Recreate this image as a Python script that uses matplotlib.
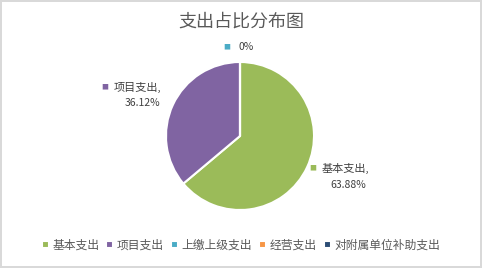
import matplotlib.pyplot as plt

plt.rcParams['font.family'] = ['Noto Sans CJK SC', 'DejaVu Sans']

categories = ['基本支出', '项目支出', '上缴上级支出', '经营支出', '对附属单位补助支出']
shares = [63.88, 36.12, 0, 0, 0]
pct_labels = ['63.88%', '36.12%', '0%', '0%', '0%']
colors = ['#9BBB59', '#8064A2', '#4BACC6', '#F79646', '#2C4D75']

W, H = 482, 268
fig = plt.figure(figsize=(W / 100, H / 100), dpi=100, edgecolor='#D9D9D9', linewidth=1.5)

# pie centre (240,136) px, radius 74 px
cx, cy, r = 240, 136, 74
ax = fig.add_axes([(cx - r) / W, (H - cy - r) / H, 2 * r / W, 2 * r / H])
wedges, _ = ax.pie(shares, colors=colors, startangle=90, counterclock=False,
                   wedgeprops=dict(edgecolor='white', linewidth=1.5))
ax.set_xlim(-1, 1)
ax.set_ylim(-1, 1)
ax.set_aspect('auto')
ax.axis('off')

fig.text(0.5, 1 - 22 / H, '支出占比分布图', ha='center', va='center',
         fontsize=13, color='#595959')

tc = '#404040'
def px(x, y):
    return x / W, 1 - y / H

def label(sq, name, pct, pct_xy, color):
    fig.text(*px(*sq), '■', ha='center', va='center', fontsize=5, color=color)
    if name:
        fig.text(*px(sq[0] + 9, sq[1]), name + ',', ha='left', va='center',
                 fontsize=8, color=tc)
    fig.text(*px(*pct_xy), pct, ha='center', va='center', fontsize=7.5, color=tc)

label((313, 168), categories[0], pct_labels[0], (348, 185), colors[0])
label((105, 87), categories[1], pct_labels[1], (142, 103), colors[1])
label((227, 47), '', pct_labels[2], (246, 47), colors[2])

fig.legend(wedges, categories, loc='center', bbox_to_anchor=(0.5, 1 - 245 / H),
           ncol=5, frameon=False, fontsize=8.5, handlelength=0.6, handleheight=0.6,
           handletextpad=0.3, columnspacing=0.6, labelcolor='#595959')

fig.savefig('out.png', dpi=100)
